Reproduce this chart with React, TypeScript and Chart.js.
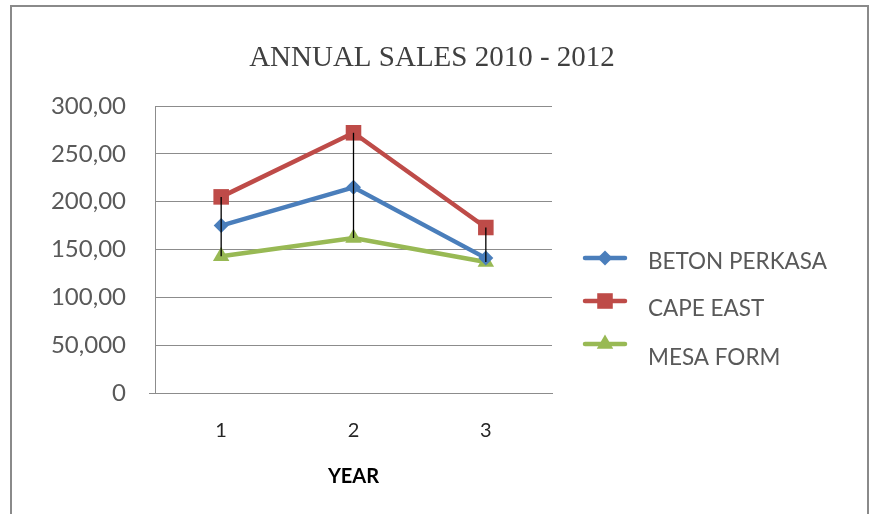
import React, { useEffect, useRef } from 'react';
import { Chart, registerables } from 'chart.js';

Chart.register(...registerables);

const categories = ['1', '2', '3'];
const betonPerkasa = [175, 215, 141];
const capeEast = [205, 272, 173];
const mesaForm = [143, 162, 137];
const seriesNames = ['BETON PERKASA', 'CAPE EAST', 'MESA FORM'];
const yTickValues = [0, 50, 100, 150, 200, 250, 300];
const yTickLabels = ['0', '50,000', '100,00', '150,00', '200,00', '250,00', '300,00'];
const chartTitle = 'ANNUAL SALES 2010 - 2012';
const xAxisTitle = 'YEAR';

const COLORS = ['#4A7EBB', '#BE4B48', '#98B954'];
const STYLES = ['rectRot', 'rect', 'triangle'];
const RADII = [7.5, 11, 9.5];

function drawMarker(ctx: CanvasRenderingContext2D, style: string, x: number, y: number, r: number, color: string) {
  ctx.save();
  ctx.fillStyle = color;
  ctx.beginPath();
  if (style === 'rectRot') {
    ctx.moveTo(x, y - r);
    ctx.lineTo(x + r, y);
    ctx.lineTo(x, y + r);
    ctx.lineTo(x - r, y);
  } else if (style === 'rect') {
    const s = Math.SQRT1_2 * r;
    ctx.rect(x - s, y - s, 2 * s, 2 * s);
  } else {
    ctx.moveTo(x, y - r);
    ctx.lineTo(x + r * 0.866, y + r * 0.5);
    ctx.lineTo(x - r * 0.866, y + r * 0.5);
  }
  ctx.closePath();
  ctx.fill();
  ctx.restore();
}

const highLowPlugin = {
  id: 'highLow',
  afterDatasetsDraw(chart: any) {
    const ctx = chart.ctx;
    const xs = chart.scales.x;
    const ys = chart.scales.y;
    categories.forEach((_, i) => {
      const vals = chart.data.datasets.map((d: any) => d.data[i] as number);
      const hi = Math.max(...vals);
      const lo = Math.min(...vals);
      const px = xs.getPixelForValue(i);
      ctx.save();
      ctx.strokeStyle = '#000000';
      ctx.lineWidth = 1.3;
      ctx.beginPath();
      ctx.moveTo(px, ys.getPixelForValue(hi));
      ctx.lineTo(px, ys.getPixelForValue(lo));
      ctx.stroke();
      ctx.restore();
    });
  },
};

const decorPlugin = {
  id: 'decor',
  beforeDraw(chart: any) {
    const ctx = chart.ctx;
    ctx.save();
    ctx.fillStyle = '#ffffff';
    ctx.fillRect(0, 0, chart.width, chart.height);
    ctx.strokeStyle = '#8a8a8a';
    ctx.lineWidth = 2;
    ctx.strokeRect(11, 6, chart.width - 17, chart.height + 20);
    ctx.restore();
  },
  afterDraw(chart: any) {
    const ctx = chart.ctx;
    ctx.save();
    // title
    ctx.fillStyle = '#404040';
    ctx.font = '29px "Liberation Serif", "Times New Roman", serif';
    ctx.textAlign = 'center';
    ctx.textBaseline = 'middle';
    ctx.fillText(chartTitle, 432, 58);
    // x-axis tick extension at zero
    const ys = chart.scales.y;
    ctx.strokeStyle = '#8c8c8c';
    ctx.lineWidth = 1;
    ctx.beginPath();
    const y0 = Math.round(ys.getPixelForValue(0)) + 0.5;
    ctx.moveTo(chart.chartArea.left - 6, y0);
    ctx.lineTo(chart.chartArea.left, y0);
    ctx.stroke();
    // legend
    const markerY = [258, 301, 344];
    const textY = [262, 309, 358];
    chart.data.datasets.forEach((d: any, i: number) => {
      ctx.strokeStyle = COLORS[i];
      ctx.lineWidth = 4.5;
      ctx.lineCap = 'round';
      ctx.beginPath();
      ctx.moveTo(585, markerY[i]);
      ctx.lineTo(625, markerY[i]);
      ctx.stroke();
      drawMarker(ctx, STYLES[i], 605, markerY[i], RADII[i], COLORS[i]);
      ctx.fillStyle = '#595959';
      ctx.font = '22.5px Lato, "Open Sans", sans-serif';
      ctx.textAlign = 'left';
      ctx.textBaseline = 'middle';
      ctx.fillText(seriesNames[i], 648, textY[i]);
    });
    ctx.restore();
  },
};

export default function App() {
  const ref = useRef<HTMLCanvasElement | null>(null);
  useEffect(() => {
    if (!ref.current) return;
    const series = [betonPerkasa, capeEast, mesaForm];
    const chart = new Chart(ref.current, {
      type: 'line',
      data: {
        labels: categories,
        datasets: series.map((vals, i) => ({
          label: seriesNames[i],
          data: vals,
          borderColor: COLORS[i],
          backgroundColor: COLORS[i],
          borderWidth: 4.5,
          pointStyle: STYLES[i] as any,
          pointRadius: RADII[i],
          pointBorderWidth: 0,
          pointBackgroundColor: COLORS[i],
          tension: 0,
          fill: false,
        })),
      },
      options: {
        animation: false,
        responsive: false,
        devicePixelRatio: 1,
        layout: { padding: { left: 0, top: 106, right: 322, bottom: 0 } },
        plugins: {
          legend: { display: false },
          title: { display: false },
          tooltip: { enabled: false },
        },
        scales: {
          x: {
            type: 'category',
            offset: true,
            grid: { display: false, drawTicks: false },
            border: { display: true, color: '#8c8c8c', width: 1 },
            ticks: {
              color: '#262626',
              font: { family: 'Lato, "Open Sans", sans-serif', size: 20 },
              padding: 26,
            },
            title: {
              display: true,
              text: xAxisTitle,
              color: '#000000',
              font: { family: 'Lato, "Open Sans", sans-serif', size: 20, weight: 'bold' },
              padding: { top: 0, bottom: 25 },
            },
            afterFit: (s: any) => {
              s.height = 121;
            },
          },
          y: {
            min: 0,
            max: 300,
            afterBuildTicks: (s: any) => {
              s.ticks = yTickValues.map((v) => ({ value: v }));
            },
            grid: { color: '#8c8c8c', lineWidth: 1, drawTicks: false },
            border: { display: true, color: '#8c8c8c', width: 1 },
            ticks: {
              color: '#595959',
              font: { family: 'Lato, "Open Sans", sans-serif', size: 24 },
              padding: 29,
              callback: (v: any) => {
                const idx = yTickValues.indexOf(Number(v));
                return idx >= 0 ? yTickLabels[idx] : '';
              },
            },
            afterFit: (s: any) => {
              s.width = 155;
            },
          },
        },
      },
      plugins: [highLowPlugin, decorPlugin],
    });
    return () => chart.destroy();
  }, []);
  return (
    <div style={{ position: 'absolute', left: 0, top: 0, width: 874, height: 514, overflow: 'hidden' }}>
      <canvas ref={ref} width={874} height={514} style={{ display: 'block' }} />
    </div>
  );
}
